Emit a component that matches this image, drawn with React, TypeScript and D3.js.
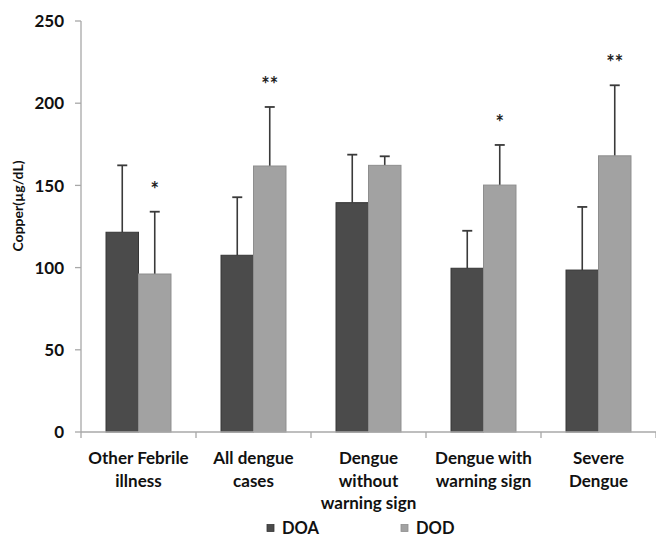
import React from "react";
import * as d3 from "d3";

// chart data
const categories = [
  ["Other Febrile", "illness"],
  ["All dengue", "cases"],
  ["Dengue", "without", "warning sign"],
  ["Dengue with", "warning sign"],
  ["Severe", "Dengue"],
];
const series = ["DOA", "DOD"];
const doaMean = [121.5, 107.5, 139.5, 99.6, 98.5];
const doaErr = [40.7, 35.3, 29.2, 22.8, 38.4];
const dodMean = [96.1, 161.8, 162.2, 150.2, 168];
const dodErr = [37.9, 35.9, 5.5, 24.4, 42.9];
const dodSig = ["*", "**", "", "*", "**"];
const yTicks = [0, 50, 100, 150, 200, 250];

const W = 656;
const H = 539;
const margin = { top: 21, right: 0, bottom: 107, left: 81 };
const colors: Record<string, string> = { DOA: "#4b4b4b", DOD: "#a2a2a2" };
const strokes: Record<string, string> = { DOA: "#363636", DOD: "#8e8e8e" };
const font = "Lato, 'Open Sans', sans-serif";

export default function App() {
  const y0 = H - margin.bottom;
  const y = d3.scaleLinear().domain([0, 250]).range([y0, margin.top]);
  const keys = categories.map((c) => c.join(" "));
  const x = d3.scaleBand().domain(keys).range([margin.left, W - margin.right]);
  const x1 = d3
    .scaleBand()
    .domain(series)
    .range([0, x.bandwidth()])
    .paddingOuter(0.77);

  const rows = keys.map((k, i) => ({
    key: k,
    lines: categories[i],
    bars: [
      { s: "DOA", v: doaMean[i], e: doaErr[i], sig: "" },
      { s: "DOD", v: dodMean[i], e: dodErr[i], sig: dodSig[i] },
    ],
  }));

  const boundaries = keys.map((k) => x(k)!).concat([x.range()[1]]);

  return (
    <svg
      width={W}
      height={H}
      style={{ position: "absolute", left: 0, top: 0, background: "#fff" }}
      fontFamily={font}
    >
      {/* y axis */}
      <line x1={margin.left} x2={margin.left} y1={y(250)} y2={y0} stroke="#a8a8a8" strokeWidth={1.3} />
      {yTicks.map((t) => (
        <g key={t}>
          <line x1={margin.left - 6} x2={margin.left} y1={y(t)} y2={y(t)} stroke="#a8a8a8" strokeWidth={1.3} />
          <text
            x={margin.left - 17}
            y={y(t)}
            dy="0.36em"
            textAnchor="end"
            fontSize={17}
            fontWeight="bold"
            fill="#111"
          >
            {t}
          </text>
        </g>
      ))}
      <text
        transform={`translate(18,206) rotate(-90)`}
        textAnchor="middle"
        dy="0.36em"
        fontSize={14}
        fontWeight="bold"
        fill="#111"
      >
        Copper(µg/dL)
      </text>

      {/* bars */}
      {rows.map((r) => (
        <g key={r.key} transform={`translate(${x(r.key)},0)`}>
          {r.bars.map((b) => {
            const bx = x1(b.s)!;
            const cx = bx + x1.bandwidth() / 2;
            return (
              <g key={b.s}>
                <line x1={cx} x2={cx} y1={y(b.v)} y2={y(b.v + b.e)} stroke="#3a3a3a" strokeWidth={1.6} />
                <line x1={cx - 5} x2={cx + 5} y1={y(b.v + b.e)} y2={y(b.v + b.e)} stroke="#3a3a3a" strokeWidth={1.8} />
                <rect
                  x={bx}
                  y={y(b.v)}
                  width={x1.bandwidth()}
                  height={y0 - y(b.v)}
                  fill={colors[b.s]}
                  stroke={strokes[b.s]}
                  strokeWidth={1}
                />
                {b.sig && (
                  <text
                    x={cx}
                    y={y(b.v + b.e) - 26 + 11}
                    textAnchor="middle"
                    fontSize={20}
                    fontWeight="bold"
                    fill="#222"
                  >
                    {b.sig}
                  </text>
                )}
              </g>
            );
          })}
          {r.lines.map((l, j) => (
            <text
              key={j}
              x={x.bandwidth() / 2}
              y={464 + j * 22.5}
              textAnchor="middle"
              fontSize={17}
              fontWeight="bold"
              fill="#111"
            >
              {l}
            </text>
          ))}
        </g>
      ))}

      {/* x axis */}
      <line x1={margin.left} x2={W} y1={y0} y2={y0} stroke="#a8a8a8" strokeWidth={1.3} />
      {boundaries.map((bx, i) => (
        <line key={i} x1={bx} x2={bx} y1={y0} y2={y0 + 6} stroke="#a8a8a8" strokeWidth={1.3} />
      ))}

      {/* legend */}
      {series.map((s, i) => (
        <g key={s} transform={`translate(${267 + i * 134},528)`}>
          <rect x={0} y={-3.5} width={7} height={7} fill={colors[s]} stroke={strokes[s]} strokeWidth={0.8} />
          <text x={15} y={0} dy="0.36em" fontSize={16.5} fontWeight="bold" fill="#111">
            {s}
          </text>
        </g>
      ))}
    </svg>
  );
}
